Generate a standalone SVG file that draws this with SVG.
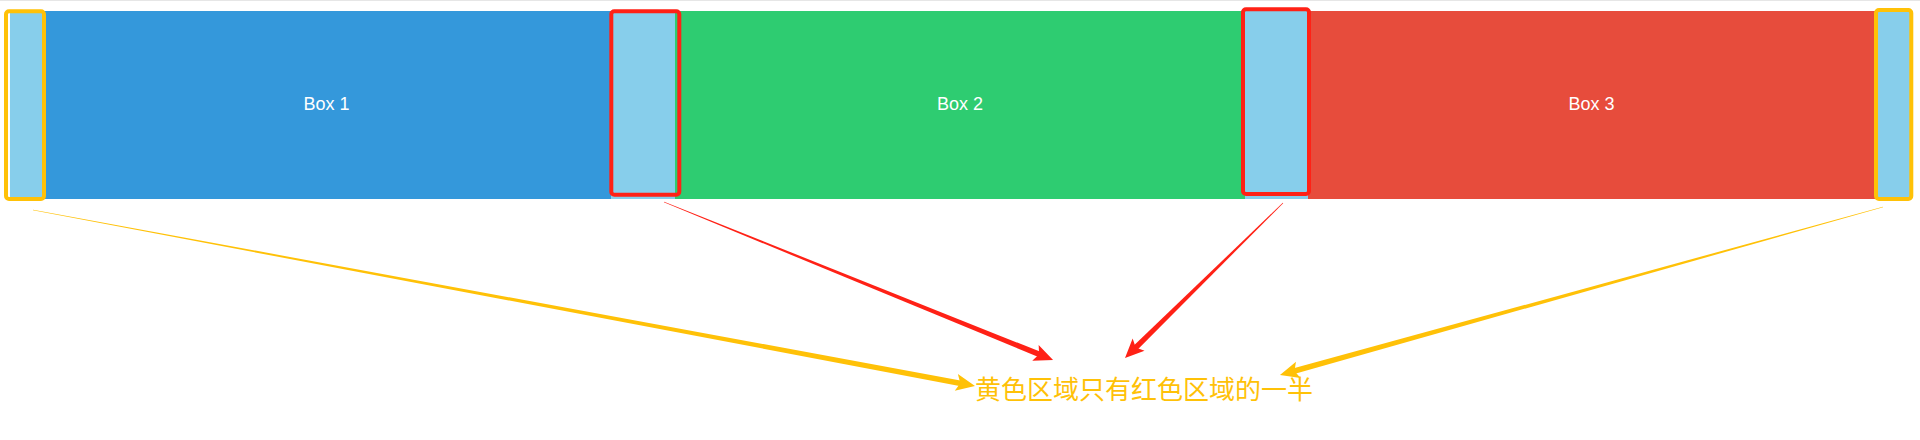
<svg xmlns="http://www.w3.org/2000/svg" width="1920" height="440" viewBox="0 0 1920 440">
  <style>
    .lbl { font-family: "Liberation Sans", Arial, sans-serif; font-size: 18px; fill: #ffffff; text-anchor: middle; }
    .gap { fill: #87ceeb; }
    .yb { fill: none; stroke: #ffc107; stroke-width: 4; }
    .rb { fill: none; stroke: #ff2116; stroke-width: 4; }
    .ya { fill: #ffc107; }
    .ra { fill: #ff2116; }
    .note { font-family: "Noto Sans CJK SC", "Noto Sans", sans-serif; font-size: 26px; fill: #ffc107; }
  </style>
  <rect x="0" y="0" width="1920" height="440" fill="#ffffff"/>
  <rect x="0" y="0" width="1920" height="1" fill="#e6e6e6"/>

  <g id="box1">
    <rect x="42" y="11" width="569" height="188" fill="#3498db"/>
    <text class="lbl" x="326.5" y="110">Box 1</text>
  </g>
  <g id="box2">
    <rect x="675" y="11" width="570" height="188" fill="#2ecc71"/>
    <text class="lbl" x="960" y="110">Box 2</text>
  </g>
  <g id="box3">
    <rect x="1308" y="11" width="567" height="188" fill="#e74c3c"/>
    <text class="lbl" x="1591.5" y="110">Box 3</text>
  </g>

  <g id="gap-left">
    <rect class="gap" x="10" y="11" width="32" height="188"/>
    <rect class="yb" x="6" y="11.3" width="38" height="187.7" rx="3"/>
  </g>
  <g id="gap-1">
    <rect class="gap" x="611" y="11" width="64" height="188"/>
    <rect class="rb" x="611.3" y="11.3" width="68" height="183.4" rx="3"/>
  </g>
  <g id="gap-2">
    <rect class="gap" x="1245" y="11" width="63" height="188"/>
    <rect class="rb" x="1243" y="9.3" width="66" height="184.7" rx="3"/>
  </g>
  <g id="gap-right">
    <rect class="gap" x="1875" y="11" width="35" height="188"/>
    <rect class="yb" x="1876" y="10" width="35.3" height="189" rx="3"/>
  </g>

  <g id="connectors">
    <g class="ya" transform="translate(33 210) rotate(10.58)">
      <path d="M0 -0.3 L944.3 -2.8 L944.3 2.8 L0 0.3 Z"/>
      <path d="M958.3 0 L939.3 -8.5 L943.3 0 L939.3 8.5 Z"/>
    </g>
    <g class="ra" transform="translate(664 202) rotate(22.10)">
      <path d="M0 -0.3 L405.9 -2.8 L405.9 2.8 L0 0.3 Z"/>
      <path d="M419.9 0 L400.9 -8.5 L404.9 0 L400.9 8.5 Z"/>
    </g>
    <g class="ra" transform="translate(1283 203) rotate(135.55)">
      <path d="M0 -0.3 L207.3 -2.8 L207.3 2.8 L0 0.3 Z"/>
      <path d="M221.3 0 L202.3 -8.5 L206.3 0 L202.3 8.5 Z"/>
    </g>
    <g class="ya" transform="translate(1883 207) rotate(164.43)">
      <path d="M0 -0.3 L612 -2.8 L612 2.8 L0 0.3 Z"/>
      <path d="M626 0 L607 -8.5 L611 0 L607 8.5 Z"/>
    </g>
  </g>

  <g id="note">
    <text class="note" x="975" y="399">黄色区域只有红色区域的一半</text>
  </g>
</svg>
